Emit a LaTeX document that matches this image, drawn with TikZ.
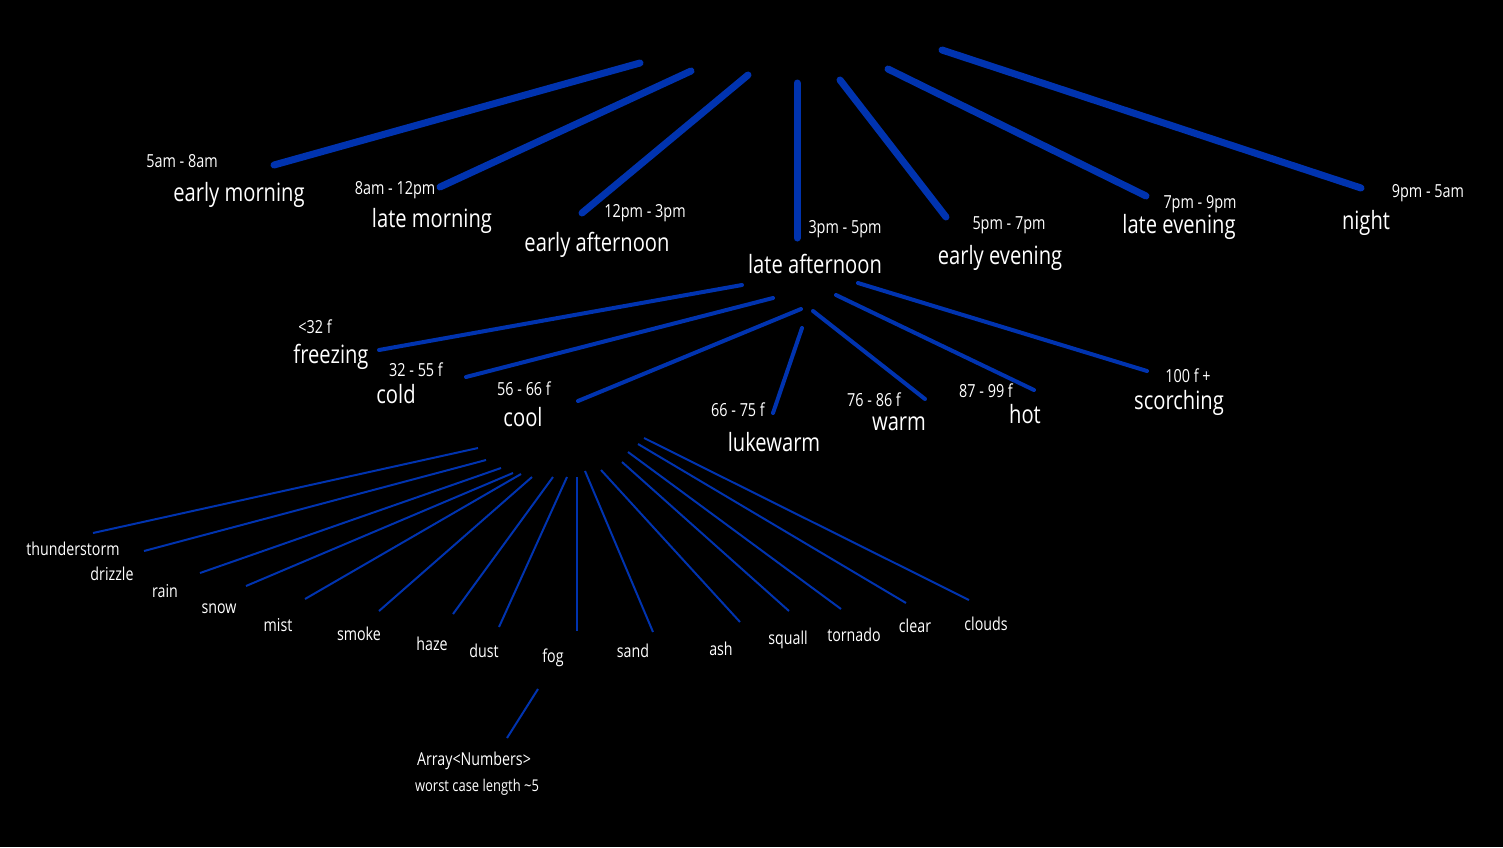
\documentclass[tikz,border=0pt]{standalone}
\usepackage{fontspec}
\setmainfont{Open Sans}[FakeStretch=0.8]
\usetikzlibrary{calc}
\definecolor{branchblue}{RGB}{0,51,175}

\begin{document}
\begin{tikzpicture}[x=0.5pt,y=-0.5pt,
    big/.style={text=white,font=\fontsize{12.6}{14}\selectfont,inner sep=0pt},
    small/.style={text=white,font=\fontsize{9}{10}\selectfont,inner sep=0pt},
    wx/.style={text=white,font=\fontsize{8.9}{10}\selectfont,inner sep=0pt},
    daybranch/.style={branchblue,line width=3.5pt,line cap=round},
    tempbranch/.style={branchblue,line width=2pt,line cap=round},
    wxbranch/.style={branchblue,line width=1pt}]

    % Background
    \fill[black] (0,0) rectangle (1503,847);

    % Times of day
    \foreach \n/\xa/\ya/\xb/\yb/\tx/\ty/\tt/\lx/\ly/\lt in {
        1/640/63/274/165/182/161/5am - 8am/239/195/early morning,
        2/691/71/440/187/395/190/8am - 12pm/432/221/late morning,
        3/748/75/582/213/645/213/12pm - 3pm/597/245/early afternoon,
        4/797/83/797/238/845/229/3pm - 5pm/815/264/late afternoon,
        5/840/80/946/217/1009/225/5pm - 7pm/1000/258/early evening,
        6/888/69/1146/196/1200/204/7pm - 9pm/1179/227/late evening,
        7/942/50/1361/188/1428/193/9pm - 5am/1366/223/night} {
        \coordinate (d\n a) at (\xa,\ya);
        \coordinate (d\n b) at (\xb,\yb);
        \node[small] (d\n t) at (\tx,\ty) {\tt};
        \node[big] (d\n) at (\lx,\ly) {\lt};
        \draw[daybranch] (d\n a) -- (d\n b);
    }

    % Temperatures
    \foreach \n/\xa/\ya/\xb/\yb/\tx/\ty/\tt/\lx/\ly/\lt in {
        1/742/285/379/350/315/327/<32 f/331/357/freezing,
        2/773/298/466/377/416/370/32 - 55 f/396/394/cold,
        3/801/309/578/401/524/389/56 - 66 f/523/417/cool,
        4/802/328/773/413/738/410/66 - 75 f/774/442/lukewarm,
        5/813/311/925/399/874/400/76 - 86 f/899/424/warm,
        6/836/295/1034/390/986/391/87 - 99 f/1025/414/hot,
        7/858/283/1147/371/1188/376/100 f +/1179/403/scorching} {
        \coordinate (c\n a) at (\xa,\ya);
        \coordinate (c\n b) at (\xb,\yb);
        \node[small] (c\n t) at (\tx,\ty) {\tt};
        \node[big] (c\n) at (\lx,\ly) {\lt};
        \draw[tempbranch] (c\n a) -- (c\n b);
    }

    % Weather
    \foreach \n/\xa/\ya/\xb/\yb/\lx/\ly/\lt in {
        1/478/448/93/533/73/549/thunderstorm,
        2/486/460/144/551/112/574/drizzle,
        3/501/468/200/573/165/591/rain,
        4/513/473/246/586/219/609/snow,
        5/521/474/305/599/278/625/mist,
        6/532/477/379/611/359/634/smoke,
        7/553/477/453/614/432/644/haze,
        8/567/477/499/627/484/651/dust,
        9/577/477/577/631/553/658/fog,
        10/585/471/653/632/633/651/sand,
        11/601/470/740/622/721/649/ash,
        12/622/462/789/611/788/640/squall,
        13/628/452/841/609/854/635/tornado,
        14/638/444/906/603/915/626/clear,
        15/644/438/969/600/986/624/clouds} {
        \coordinate (w\n a) at (\xa,\ya);
        \coordinate (w\n b) at (\xb,\yb);
        \node[wx] (w\n) at (\lx,\ly) {\lt};
        \draw[wxbranch] (w\n a) -- (w\n b);
    }

    % Storage note
    \coordinate (fogdown) at (538,689);
    \coordinate (arrtop) at (507,738);
    \draw[wxbranch] (fogdown) -- (arrtop);
    \node[wx] (arr) at (474,761) {Array<Numbers>};
    \node[small,font=\fontsize{8.1}{10}\selectfont] (worst) at (477,787) {worst case length \textasciitilde5};

\end{tikzpicture}
\end{document}
